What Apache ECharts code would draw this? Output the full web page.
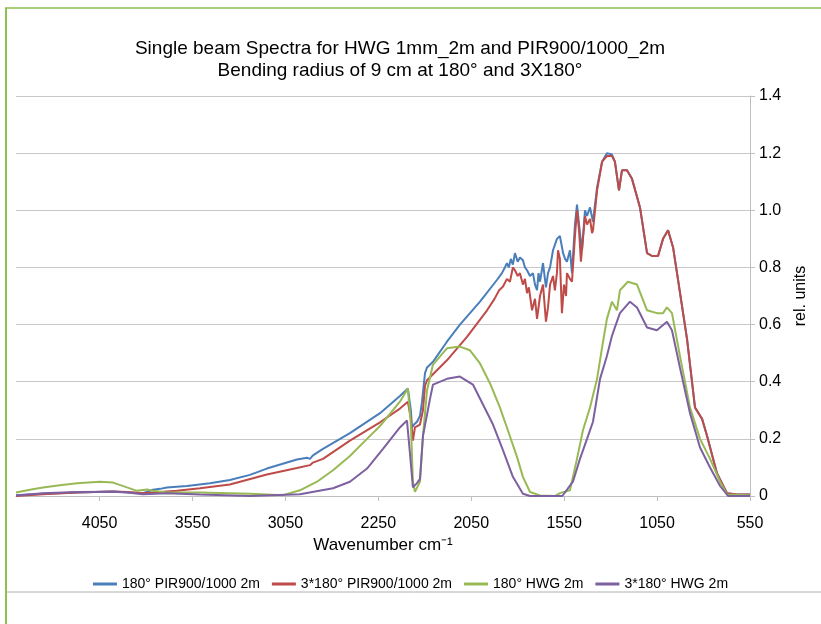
<!DOCTYPE html>
<html>
<head>
<meta charset="utf-8">
<title>Single beam Spectra</title>
<script src="https://cdn.jsdelivr.net/npm/echarts@6/dist/echarts.min.js"></script>
<style>
  html, body { margin: 0; padding: 0; background: #fff; }
  #chart { width: 821px; height: 624px; }
</style>
</head>
<body>
<div id="chart"></div>
<script>
// x axis ticks (wavenumber) and the labels printed under them
const xTickValues = [4050, 3550, 3050, 2550, 2050, 1550, 1050, 550];
const xTickLabels = ["4050", "3550", "3050", "2250", "2050", "1550", "1050", "550"];

const seriesNames = [
  "180° PIR900/1000 2m",
  "3*180° PIR900/1000 2m",
  "180° HWG 2m",
  "3*180° HWG 2m",
];

// [wavenumber, rel. units]
const pir180 = [
  [4500, 0.003], [4355, 0.008], [4172, 0.012], [3978, 0.016], [3903, 0.013],
  [3817, 0.01], [3763, 0.022], [3725, 0.025], [3688, 0.03], [3580, 0.035],
  [3456, 0.045], [3349, 0.056], [3241, 0.074], [3150, 0.096], [2988, 0.128],
  [2934, 0.134], [2918, 0.13], [2902, 0.142], [2848, 0.165], [2703, 0.22],
  [2541, 0.29], [2434, 0.35], [2391, 0.376], [2375, 0.3], [2369, 0.24],
  [2358, 0.25], [2342, 0.26], [2326, 0.28], [2315, 0.33], [2299, 0.43],
  [2288, 0.45], [2256, 0.47], [2245, 0.48], [2181, 0.54], [2111, 0.6],
  [2057, 0.64], [2003, 0.68], [1912, 0.756], [1885, 0.78], [1869, 0.8],
  [1858, 0.815], [1848, 0.8], [1837, 0.83], [1826, 0.81], [1815, 0.85],
  [1800, 0.82], [1788, 0.835], [1772, 0.825], [1761, 0.8], [1750, 0.79],
  [1734, 0.77], [1718, 0.78], [1707, 0.74], [1696, 0.72], [1688, 0.78],
  [1680, 0.75], [1664, 0.815], [1648, 0.73], [1637, 0.78], [1626, 0.8],
  [1610, 0.86], [1589, 0.9], [1573, 0.91], [1556, 0.85], [1545, 0.83],
  [1535, 0.82], [1519, 0.86], [1508, 0.78], [1492, 0.95], [1481, 1.02],
  [1465, 0.92], [1454, 0.86], [1438, 1.0], [1427, 0.98], [1411, 1.01],
  [1395, 0.96], [1373, 1.08], [1346, 1.17], [1320, 1.2], [1293, 1.195],
  [1277, 1.17], [1255, 1.07], [1239, 1.14], [1212, 1.14], [1185, 1.11],
  [1142, 1.01], [1104, 0.85], [1077, 0.84], [1045, 0.84], [1018, 0.9],
  [991, 0.93], [964, 0.87], [938, 0.76], [889, 0.55], [846, 0.31],
  [808, 0.27], [781, 0.21], [728, 0.08], [674, 0.01], [620, 0.005],
  [550, 0.005],
];

const pir3x180 = [
  [4500, 0.0], [4355, 0.006], [4172, 0.012], [3978, 0.016], [3903, 0.014],
  [3817, 0.01], [3725, 0.014], [3634, 0.018], [3510, 0.027], [3349, 0.04],
  [3150, 0.075], [2988, 0.098], [2918, 0.108], [2902, 0.117], [2848, 0.13],
  [2703, 0.194], [2541, 0.258], [2434, 0.306], [2391, 0.33], [2375, 0.27],
  [2364, 0.194], [2353, 0.24], [2326, 0.25], [2310, 0.3], [2299, 0.385],
  [2288, 0.405], [2181, 0.475], [2073, 0.557], [1965, 0.65], [1925, 0.69],
  [1900, 0.72], [1879, 0.733], [1858, 0.76], [1842, 0.75], [1826, 0.8],
  [1815, 0.79], [1800, 0.77], [1788, 0.78], [1772, 0.74], [1761, 0.76],
  [1750, 0.71], [1740, 0.73], [1723, 0.65], [1707, 0.69], [1696, 0.62],
  [1680, 0.7], [1664, 0.74], [1648, 0.61], [1637, 0.66], [1626, 0.74],
  [1610, 0.77], [1600, 0.72], [1589, 0.78], [1583, 0.86], [1573, 0.83],
  [1562, 0.64], [1551, 0.74], [1540, 0.7], [1535, 0.78], [1519, 0.76],
  [1508, 0.75], [1492, 0.91], [1481, 1.0], [1470, 0.93], [1460, 0.82],
  [1449, 0.9], [1438, 0.98], [1427, 0.95], [1411, 0.97], [1400, 0.92],
  [1395, 0.93], [1373, 1.07], [1346, 1.17], [1320, 1.19], [1293, 1.19],
  [1277, 1.17], [1255, 1.07], [1239, 1.14], [1212, 1.14], [1185, 1.11],
  [1142, 1.01], [1104, 0.85], [1077, 0.84], [1045, 0.84], [1018, 0.9],
  [991, 0.93], [964, 0.87], [938, 0.76], [889, 0.55], [846, 0.31],
  [808, 0.27], [781, 0.21], [728, 0.08], [674, 0.01], [620, 0.005],
  [550, 0.005],
];

const hwg180 = [
  [4500, 0.012], [4425, 0.022], [4355, 0.03], [4264, 0.038], [4172, 0.045],
  [4048, 0.05], [3978, 0.047], [3903, 0.03], [3849, 0.018], [3795, 0.023],
  [3763, 0.018], [3688, 0.012], [3510, 0.012], [3241, 0.008], [3063, 0.003],
  [2972, 0.02], [2880, 0.05], [2794, 0.09], [2703, 0.14], [2611, 0.2],
  [2541, 0.245], [2434, 0.33], [2391, 0.376], [2375, 0.25], [2364, 0.05],
  [2353, 0.015], [2326, 0.05], [2310, 0.21], [2288, 0.37], [2256, 0.46],
  [2181, 0.517], [2111, 0.523], [2057, 0.51], [2003, 0.464], [1949, 0.394],
  [1896, 0.31], [1853, 0.23], [1804, 0.137], [1772, 0.067], [1734, 0.014],
  [1680, 0.002], [1600, 0.0], [1573, 0.01], [1519, 0.02], [1481, 0.13],
  [1449, 0.23], [1411, 0.31], [1373, 0.41], [1346, 0.52], [1320, 0.62],
  [1293, 0.68], [1266, 0.65], [1250, 0.72], [1207, 0.75], [1158, 0.74],
  [1104, 0.65], [1051, 0.64], [1018, 0.64], [997, 0.66], [970, 0.64],
  [927, 0.49], [873, 0.31], [819, 0.2], [765, 0.13], [711, 0.05],
  [674, 0.005], [550, 0.003],
];

const hwg3x180 = [
  [4500, 0.002], [4355, 0.01], [4172, 0.014], [3978, 0.015], [3903, 0.012],
  [3817, 0.006], [3688, 0.01], [3510, 0.005], [3241, 0.0], [2972, 0.006],
  [2794, 0.027], [2703, 0.05], [2611, 0.096], [2525, 0.165], [2434, 0.24],
  [2396, 0.264], [2380, 0.15], [2364, 0.03], [2342, 0.045], [2326, 0.06],
  [2310, 0.21], [2272, 0.34], [2256, 0.39], [2181, 0.41], [2111, 0.418],
  [2041, 0.39], [1987, 0.32], [1933, 0.25], [1879, 0.16], [1826, 0.067],
  [1772, 0.008], [1734, 0.0], [1560, 0.0], [1503, 0.05], [1465, 0.13],
  [1427, 0.2], [1395, 0.26], [1357, 0.41], [1320, 0.49], [1293, 0.56],
  [1277, 0.59], [1250, 0.64], [1196, 0.68], [1158, 0.66], [1104, 0.59],
  [1051, 0.58], [997, 0.61], [970, 0.58], [927, 0.45], [873, 0.29],
  [819, 0.17], [765, 0.1], [711, 0.035], [668, 0.0], [550, 0.0],
];

const chart = echarts.init(document.getElementById("chart"));

function line(name, data, color) {
  return {
    name: name,
    type: "line",
    data: data,
    showSymbol: false,
    smooth: false,
    lineStyle: { width: 2, color: color },
    itemStyle: { color: color },
  };
}

const option = {
  animation: false,
  textStyle: { fontFamily: "Liberation Sans, Arial, sans-serif" },
  title: {
    text: "Single beam Spectra for HWG 1mm_2m and PIR900/1000_2m\nBending radius of 9 cm at 180° and 3X180°",
    left: 395,
    top: 33,
    textAlign: "center",
    textStyle: {
      fontSize: 19,
      fontWeight: "normal",
      color: "#000",
      lineHeight: 22,
    },
  },
  legend: {
    top: 572,
    left: "center",
    icon: "rect",
    itemWidth: 24,
    itemHeight: 3,
    itemGap: 12,
    textStyle: {
      fontSize: 14,
      color: "#000",
    },
    data: seriesNames,
  },
  grid: { left: 16, right: 71, top: 96, bottom: 128 },
  xAxis: {
    type: "value",
    inverse: true,
    min: 550,
    max: 4500,
    name: "Wavenumber cm⁻¹",
    nameLocation: "middle",
    nameGap: 41,
    nameTextStyle: { fontSize: 17, color: "#000" },
    axisLine: { show: true, lineStyle: { color: "#bfbfbf" } },
    axisTick: {
      show: true,
      customValues: xTickValues,
      length: 5,
      lineStyle: { color: "#bfbfbf" },
    },
    axisLabel: {
      customValues: xTickValues,
      formatter: (v) => xTickLabels[xTickValues.indexOf(v)],
      fontSize: 16,
      color: "#000",
      margin: 20,
    },
    splitLine: { show: false },
  },
  yAxis: {
    type: "value",
    position: "right",
    min: 0,
    max: 1.4,
    interval: 0.2,
    name: "rel. units",
    nameLocation: "middle",
    nameRotate: 90,
    nameGap: 42,
    nameTextStyle: { fontSize: 16, color: "#000" },
    axisLine: { show: true, lineStyle: { color: "#bfbfbf" } },
    axisTick: { show: true, length: 5, lineStyle: { color: "#bfbfbf" } },
    axisLabel: {
      formatter: (v) => (v === 0 ? "0" : v.toFixed(1)),
      fontSize: 16,
      color: "#000",
      margin: 9,
    },
    splitLine: { show: true, lineStyle: { color: "#c8c8c8" } },
  },
  graphic: [
    // outer frame bits from the original page
    { type: "line", shape: { x1: 5, y1: 8, x2: 821, y2: 8 }, style: { stroke: "#a9d078", lineWidth: 2 } },
    { type: "line", shape: { x1: 6, y1: 8, x2: 6, y2: 624 }, style: { stroke: "#8cc152", lineWidth: 2 } },
    { type: "line", shape: { x1: 6, y1: 592, x2: 821, y2: 592 }, style: { stroke: "#b0b0b0", lineWidth: 1 } },
  ],
  series: [
    line(seriesNames[0], pir180, "#4a7ebb"),
    line(seriesNames[1], pir3x180, "#be4b48"),
    line(seriesNames[2], hwg180, "#98b954"),
    line(seriesNames[3], hwg3x180, "#7d60a0"),
  ],
};

option && chart.setOption(option);
</script>
</body>
</html>
